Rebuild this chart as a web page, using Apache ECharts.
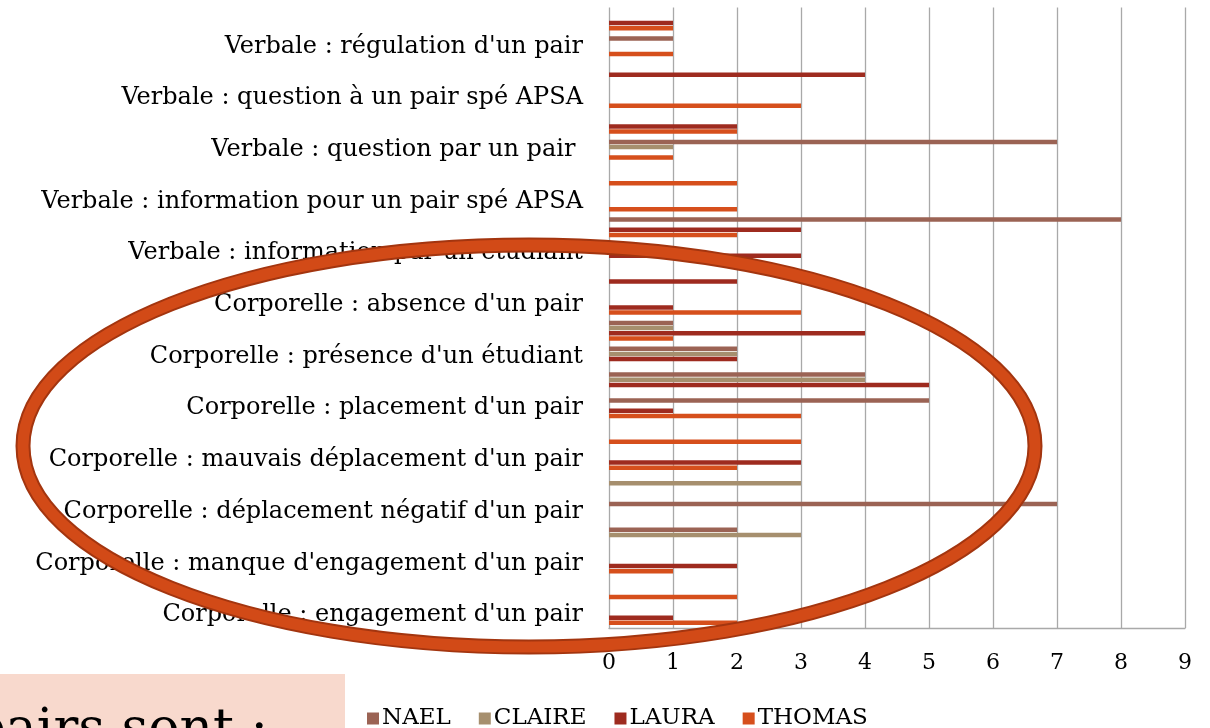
<!DOCTYPE html>
<html>
<head>
<meta charset="utf-8">
<script src="https://cdn.jsdelivr.net/npm/echarts@6/dist/echarts.min.js"></script>
<style>
html,body{margin:0;padding:0;background:#fff;}
#chart{width:1210px;height:728px;}
</style>
</head>
<body>
<div id="chart"></div>
<script>
// Categories from bottom (index 0) to top; only every other one is labelled in the original
const categories = [
  "Corporelle : engagement d'un pair",
  "Corporelle : engagement d'un étudiant",
  "Corporelle : manque d'engagement d'un pair",
  "Corporelle : manque d'engagement d'un étudiant",
  "Corporelle : déplacement négatif d'un pair",
  "Corporelle : déplacement négatif d'un étudiant",
  "Corporelle : mauvais déplacement d'un pair",
  "Corporelle : mauvais déplacement d'un étudiant",
  "Corporelle : placement d'un pair",
  "Corporelle : placement d'un étudiant",
  "Corporelle : présence d'un étudiant",
  "Corporelle : présence d'un pair",
  "Corporelle : absence d'un pair",
  "Corporelle : absence d'un étudiant",
  "Verbale : information par un étudiant",
  "Verbale : information par un pair",
  "Verbale : information pour un pair spé APSA",
  "Verbale : information pour un étudiant",
  "Verbale : question par un pair ",
  "Verbale : question par un étudiant",
  "Verbale : question à un pair spé APSA",
  "Verbale : question à un étudiant",
  "Verbale : régulation d'un pair",
  "Verbale : régulation d'un étudiant"
];
const seriesNames = ["NAEL", "CLAIRE", "LAURA", "THOMAS"];
const nael   = [0,0,0,2,7,0,0,0,5,4,2,1,0,0,0,8,0,0,7,0,0,0,1,0];
const claire = [0,0,0,3,0,3,0,0,0,4,2,1,0,0,0,0,0,0,1,0,0,0,0,0];
const laura  = [1,0,2,0,0,0,3,0,1,5,2,4,1,2,3,3,0,0,0,2,0,4,0,1];
const thomas = [2,2,1,0,0,0,2,3,3,0,0,1,3,0,0,2,2,2,1,2,3,0,1,1];
const xTicks = [0,1,2,3,4,5,6,7,8,9];

const colors = ['#9B6354', '#A68F6E', '#9E2B1F', '#D64F1C'];
const values = [nael, claire, laura, thomas];
const FONT = 'DejaVu Serif';

const chart = echarts.init(document.getElementById('chart'), null, {renderer: 'canvas'});

const series = seriesNames.map((name, i) => ({
  name: name,
  type: 'bar',
  data: values[i],
  barWidth: 4.5,
  barGap: '15%',
  itemStyle: { color: colors[i] },
  emphasis: { disabled: true },
  animation: false
}));

chart.setOption({
  animation: false,
  color: colors,
  grid: { left: 609, right: 25, top: 7.5, bottom: 100, containLabel: false },
  legend: {
    data: seriesNames,
    left: 362,
    top: 702,
    itemWidth: 12,
    itemHeight: 12,
    itemGap: 28,
    icon: 'rect',
    textStyle: { fontFamily: FONT, fontSize: 23, color: '#000', padding: [0,0,0,-2] }
  },
  xAxis: {
    type: 'value',
    min: 0,
    max: 9,
    interval: 1,
    axisLine: { show: true, lineStyle: { color: '#A9A9A9', width: 1.3 } },
    axisTick: { show: false },
    splitLine: { show: true, lineStyle: { color: '#A9A9A9', width: 1.3 } },
    axisLabel: {
      margin: 24,
      fontFamily: FONT,
      fontSize: 22,
      color: '#000',
      formatter: v => String(xTicks[v])
    }
  },
  yAxis: {
    type: 'category',
    data: categories,
    axisLine: { show: false },
    axisTick: { show: false },
    splitLine: { show: false },
    axisLabel: {
      interval: 1,
      margin: 26,
      fontFamily: FONT,
      fontSize: 24,
      color: '#000'
    }
  },
  series: series,
  graphic: [
    {
      type: 'rect',
      z: 50,
      shape: { x: 0, y: 674, width: 345, height: 60 },
      style: { fill: '#F8D9CD' }
    },
    {
      type: 'text',
      z: 51,
      style: {
        x: 268, y: 731,
        text: 'pairs sont :',
        textAlign: 'right',
        textVerticalAlign: 'middle',
        fontFamily: FONT,
        fontSize: 52,
        fill: '#000'
      }
    },
    {
      type: 'ellipse',
      z: 100,
      shape: { cx: 529, cy: 446, rx: 506, ry: 201 },
      style: { fill: 'none', stroke: '#A3350F', lineWidth: 15 }
    },
    {
      type: 'ellipse',
      z: 101,
      shape: { cx: 529, cy: 446, rx: 506, ry: 201 },
      style: { fill: 'none', stroke: '#D24A17', lineWidth: 11 }
    }
  ]
});
</script>
</body>
</html>
